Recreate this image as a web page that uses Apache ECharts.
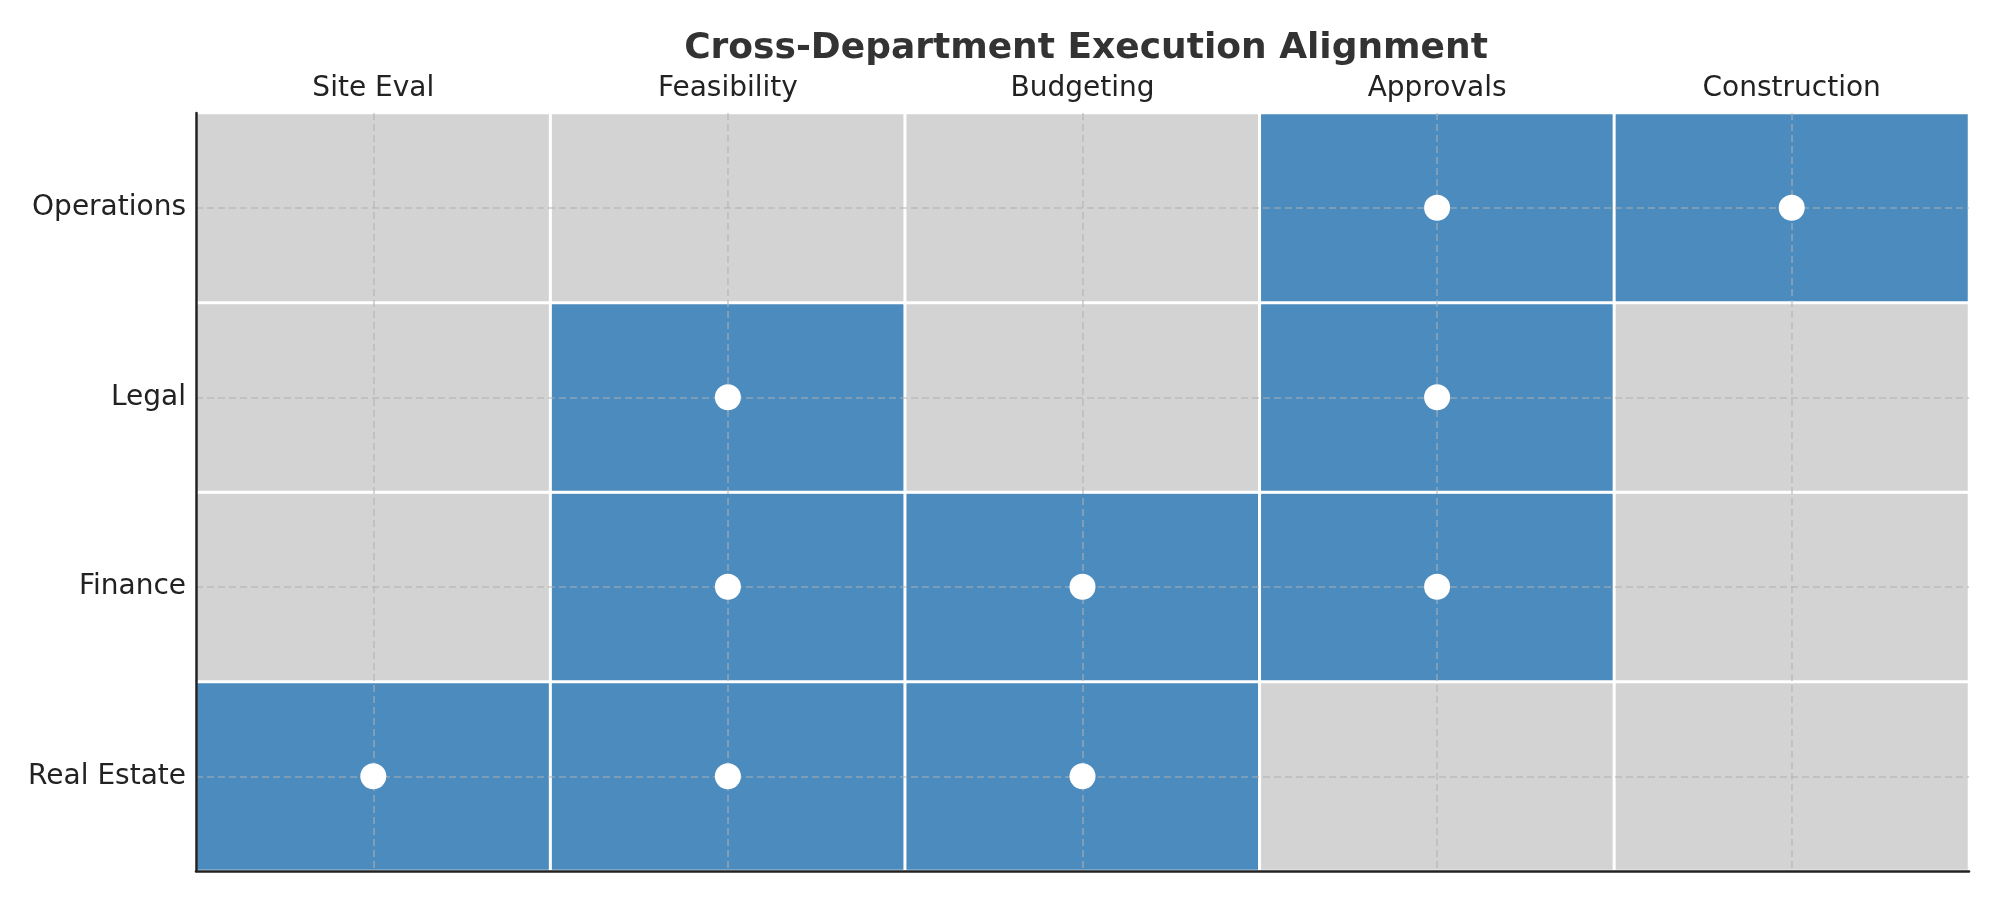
<!DOCTYPE html>
<html>
<head>
<meta charset="utf-8">
<script src="https://cdn.jsdelivr.net/npm/echarts@6/dist/echarts.min.js"></script>
<style>html,body{margin:0;padding:0;background:#fff}#c{width:2000px;height:900px}</style>
</head>
<body>
<div id="c"></div>
<script>
const phases = ['Site Eval', 'Feasibility', 'Budgeting', 'Approvals', 'Construction'];
const departments = ['Real Estate', 'Finance', 'Legal', 'Operations'];
// 1 = aligned/involved, 0 = not; rows follow departments order
const realEstate = [1, 1, 1, 0, 0];
const finance    = [0, 1, 1, 1, 0];
const legal      = [0, 1, 0, 1, 0];
const operations = [0, 0, 0, 1, 1];
const matrix = [realEstate, finance, legal, operations];

const cells = [];
const dots = [];
matrix.forEach((row, yi) => row.forEach((v, xi) => {
  cells.push([xi, yi, v]);
  if (v === 1) dots.push([phases[xi], departments[yi]]);
}));

// auxiliary axes for dashed grid lines at cell centres
const auxX = Array.from({length: phases.length * 2 + 1}, (_, i) => String(i));
const auxY = Array.from({length: departments.length * 2 + 1}, (_, i) => String(i));

const font = 'DejaVu Sans';
const gridLine = {show: true, lineStyle: {color: 'rgba(177,177,177,0.65)', width: 1.6, type: [7, 4]}};

const chart = echarts.init(document.getElementById('c'), null, {renderer: 'canvas'});
chart.setOption({
  backgroundColor: '#fff',
  animation: false,
  title: {
    text: 'Cross-Department Execution Alignment',
    left: 1081, top: 44, textAlign: 'center', textVerticalAlign: 'middle',
    textStyle: {fontFamily: font, fontSize: 36, fontWeight: 'bold', color: '#333'}
  },
  grid: {left: 196, right: 31, top: 113, bottom: 29, containLabel: false},
  xAxis: [
    {type: 'category', data: phases, position: 'top', boundaryGap: true,
     axisLine: {show: false}, axisTick: {show: false}, splitLine: {show: false},
     axisLabel: {fontFamily: font, fontSize: 28, color: '#222', margin: 10}},
    {type: 'category', data: auxX, position: 'bottom', boundaryGap: false, z: 3,
     axisLine: {show: true, lineStyle: {color: '#222', width: 2.5}},
     axisTick: {show: false}, axisLabel: {show: false},
     splitLine: Object.assign({interval: (i) => i % 2 === 1}, gridLine)}
  ],
  yAxis: [
    {type: 'category', data: departments, boundaryGap: true,
     axisLine: {show: true, lineStyle: {color: '#222', width: 2.5}},
     axisTick: {show: false}, splitLine: {show: false}, z: 5,
     axisLabel: {fontFamily: font, fontSize: 28, color: '#222', margin: 10}},
    {type: 'category', data: auxY, position: 'left', boundaryGap: false, z: 3,
     axisLine: {show: false}, axisTick: {show: false}, axisLabel: {show: false},
     splitLine: Object.assign({interval: (i) => i % 2 === 1}, gridLine)}
  ],
  visualMap: {
    show: false, type: 'piecewise', dimension: 2, seriesIndex: 0,
    pieces: [{value: 0, color: '#d3d3d3'}, {value: 1, color: '#4b8bbe'}]
  },
  series: [
    {type: 'heatmap', data: cells, xAxisIndex: 0, yAxisIndex: 0, z: 2,
     itemStyle: {borderColor: '#fff', borderWidth: 3}, emphasis: {disabled: true}},
    {type: 'scatter', data: dots, xAxisIndex: 0, yAxisIndex: 0, z: 6,
     symbol: 'circle', symbolSize: 26, itemStyle: {color: '#fff', opacity: 1}}
  ]
});
</script>
</body>
</html>
